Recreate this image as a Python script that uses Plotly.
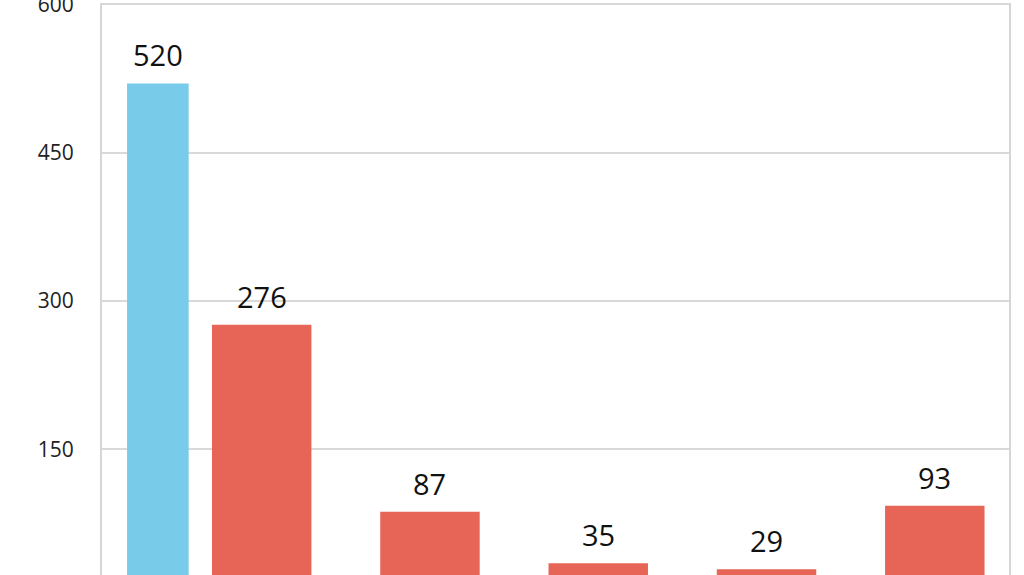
import plotly.graph_objects as go

# data (x labels are cut off in the reference)
categories = ["c1", "c2", "c3", "c4", "c5", "c6"]
highlight_cat = ["c1"]
highlight_val = [520]
other_cats = ["c2", "c3", "c4", "c5", "c6"]
other_vals = [276, 87, 35, 29, 93]
yticks = [150, 300, 450, 600]

# bar geometry in category units
BLUE_W, BLUE_OFF = 0.366, 0.2
RED_W = 0.591

label_font = dict(family="Open Sans", size=29, color="#111111")

fig = go.Figure()

# blue bar (narrower, sits right of its slot centre)
fig.add_trace(go.Bar(x=highlight_cat, y=highlight_val, width=BLUE_W, offset=BLUE_OFF,
                     marker=dict(color="#78CBE9", line=dict(width=0)), showlegend=False))

# red bars
fig.add_trace(go.Bar(x=other_cats, y=other_vals, width=RED_W,
                     marker=dict(color="#E66556", line=dict(width=0)), showlegend=False))

# value labels
blue_x = [categories.index(c) + BLUE_OFF + BLUE_W / 2 for c in highlight_cat]
for xx, v in zip(blue_x, highlight_val):
    fig.add_annotation(x=xx, y=v, text=str(v), showarrow=False, yanchor="bottom",
                       yshift=7, font=label_font)
for c, v in zip(other_cats, other_vals):
    fig.add_annotation(x=categories.index(c), y=v, text=str(v), showarrow=False,
                       yanchor="bottom", yshift=7, font=label_font)

fig.update_layout(
    width=1024, height=575,
    margin=dict(l=102, r=15, t=3, b=0),
    plot_bgcolor="white", paper_bgcolor="white",
    barmode="overlay",
    font=dict(family="Open Sans", color="#222222"),
)
fig.update_xaxes(type="category", categoryorder="array", categoryarray=categories,
                 range=[0.051, 5.441], showticklabels=False, showgrid=False,
                 showline=False, zeroline=False, automargin=False)
fig.update_yaxes(range=[23.1, 601.3], tickvals=yticks, showgrid=True, gridcolor="#D9D9D9",
                 gridwidth=2, showline=True, linecolor="#D6D6D6", linewidth=2, mirror=True,
                 zeroline=False, tickfont=dict(size=21, color="#222222"), ticklabelstandoff=22,
                 ticklabeloverflow="allow", automargin=False)

fig.write_html("out.html", config={"displayModeBar": False},
               post_script="document.body.style.margin='0';")
